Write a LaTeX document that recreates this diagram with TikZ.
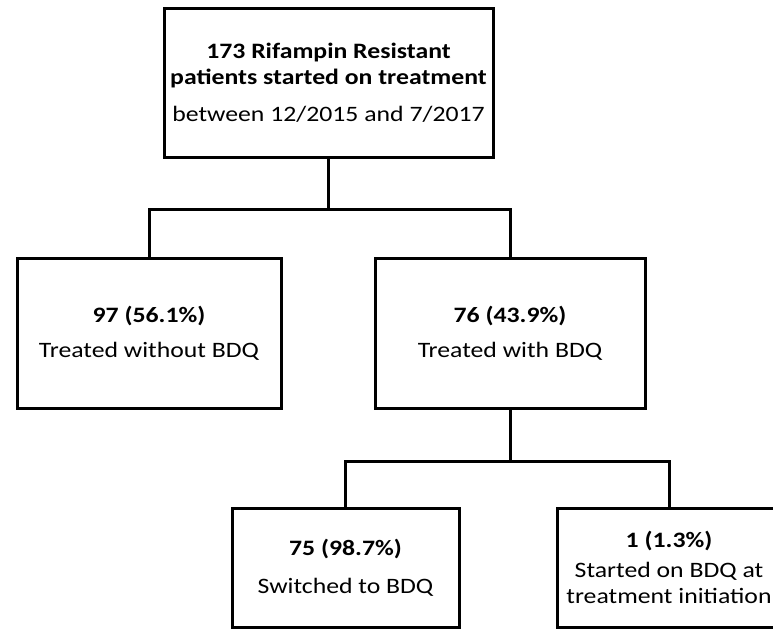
\documentclass[tikz,border=0pt]{standalone}
\usepackage{fontspec}
\setmainfont{Carlito}[FakeStretch=1.17]
\usetikzlibrary{positioning}

\begin{document}
\begin{tikzpicture}[x=1pt,y=-1pt,
    box/.style={draw,line width=3pt,align=center,inner sep=0pt,
      font=\fontsize{22}{26}\selectfont},
    link/.style={line width=3pt,line join=miter}]
  \useasboundingbox (0,0) rectangle (773,630);
  \clip (0,0) rectangle (773,630);
  % boxes
  \node[box,minimum width=329pt,minimum height=149pt] (start) at (328.5,82.5)
    {\textbf{173 Rifampin Resistant}\\
     \textbf{patients started on treatment}\\[11pt]
     between 12/2015 and 7/2017};
  \node[box,minimum width=264pt,minimum height=150pt] (nobdq) at (149,333)
    {\textbf{97 (56.1\%)}\\[9pt] Treated without BDQ};
  \node[box,minimum width=270pt,minimum height=150pt] (bdq) at (510,333)
    {\textbf{76 (43.9\%)}\\[9pt] Treated with BDQ};
  \node[box,minimum width=227pt,minimum height=119pt] (switched) at (345.5,567.5)
    {\textbf{75 (98.7\%)}\\[12pt] Switched to BDQ};
  \node[box,minimum width=224pt,minimum height=119pt] (initial) at (669,567.5)
    {\textbf{1 (1.3\%)}\\[4pt] Started on BDQ at\\ treatment initiation};
  % connectors
  \coordinate[below=51pt of start.south] (split1);
  \coordinate[below=52pt of bdq.south] (split2);
  \draw[link] (start.south) -- (split1);
  \draw[link] (nobdq.north) |- (split1) -| (bdq.north);
  \draw[link] (bdq.south) -- (split2);
  \draw[link] (switched.north) |- (split2) -| (initial.north);
\end{tikzpicture}
\end{document}
